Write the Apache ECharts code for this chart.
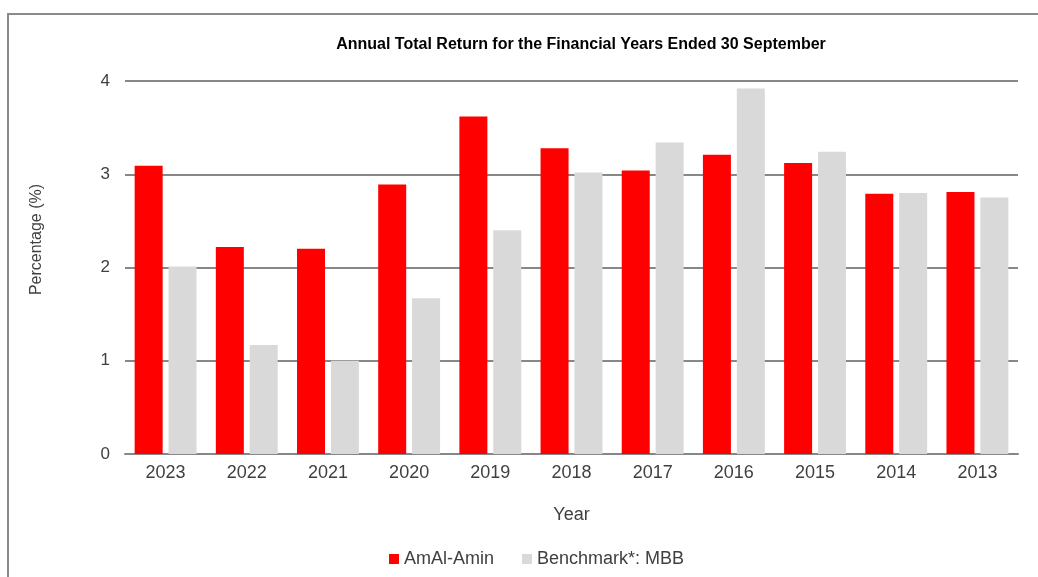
<!DOCTYPE html>
<html>
<head>
<meta charset="utf-8">
<script src="https://cdn.jsdelivr.net/npm/echarts@6/dist/echarts.min.js"></script>
<style>
  html, body { margin: 0; padding: 0; background: #fff; }
  #chart { width: 1038px; height: 577px; }
</style>
</head>
<body>
<div id="chart"></div>
<script>
const years = ['2023', '2022', '2021', '2020', '2019', '2018', '2017', '2016', '2015', '2014', '2013'];
const amalAmin = [3.09, 2.22, 2.20, 2.89, 3.62, 3.28, 3.04, 3.21, 3.12, 2.79, 2.81];
const benchmark = [2.01, 1.17, 1.00, 1.67, 2.40, 3.02, 3.34, 3.92, 3.24, 2.80, 2.75];
const yTicks = [0, 1, 2, 3, 4];

const font = 'Liberation Sans, Arial, sans-serif';
const textColor = '#404040';

const chart = echarts.init(document.getElementById('chart'), null, { renderer: 'canvas' });

chart.setOption({
  animation: false,
  textStyle: { fontFamily: font },
  title: {
    text: 'Annual Total Return for the Financial Years Ended 30 September',
    left: 576,
    textAlign: 'center',
    top: 32,
    textStyle: { fontSize: 16, fontWeight: 'bold', color: '#000', fontFamily: font }
  },
  // outer chart frame
  graphic: [{
    type: 'rect',
    shape: { x: 8, y: 14, width: 1040, height: 600 },
    style: { fill: 'none', stroke: '#8a8a8a', lineWidth: 2 },
    silent: true
  }],
  legend: {
    left: 384,
    top: 545,
    icon: 'rect',
    itemWidth: 10,
    itemHeight: 10,
    itemGap: 28,
    itemStyle: { borderWidth: 0 },
    textStyle: { fontSize: 18, color: textColor, fontFamily: font }
  },
  grid: { left: 125, right: 20, top: 81, bottom: 123, containLabel: false },
  xAxis: {
    type: 'category',
    data: years,
    name: 'Year',
    nameLocation: 'middle',
    nameGap: 52,
    nameTextStyle: { fontSize: 18, color: textColor },
    axisLine: { lineStyle: { color: '#878787', width: 2 } },
    axisTick: { show: false },
    axisLabel: { fontSize: 18, color: textColor, margin: 10 }
  },
  yAxis: {
    type: 'value',
    min: yTicks[0],
    max: yTicks[yTicks.length - 1],
    interval: 1,
    name: 'Percentage (%)',
    nameLocation: 'middle',
    nameRotate: 90,
    nameGap: 80,
    nameTextStyle: { fontSize: 16, color: textColor, padding: [0, 0, 0, 56] },
    axisLine: { show: false },
    axisTick: { show: false },
    axisLabel: { fontSize: 17, color: textColor, margin: 15 },
    splitLine: { lineStyle: { color: '#878787', width: 2 } }
  },
  series: [
    {
      name: 'AmAl-Amin',
      type: 'bar',
      data: amalAmin,
      barWidth: 28,
      barGap: '21%',
      itemStyle: { color: '#ff0000' }
    },
    {
      name: 'Benchmark*: MBB',
      type: 'bar',
      data: benchmark,
      barWidth: 28,
      itemStyle: { color: '#d9d9d9' }
    }
  ]
});
</script>
</body>
</html>
